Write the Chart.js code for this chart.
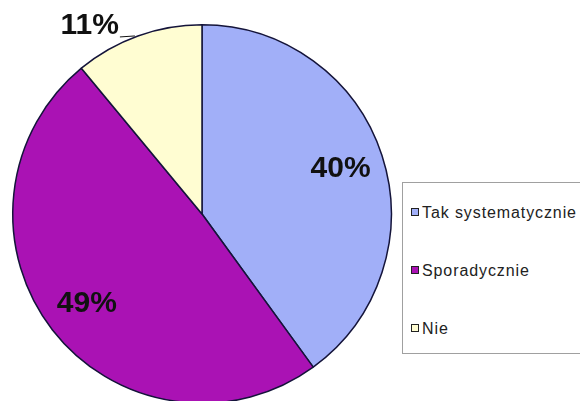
<!DOCTYPE html>
<html lang="pl">
  <head>
    <meta charset="UTF-8" />
    <title>Wykres</title>
    <script src="https://cdn.jsdelivr.net/npm/chart.js"></script>
    <style>
      body { margin: 0; width: 580px; height: 401px; overflow: hidden; background: #fff; position: relative; font-family: "Liberation Sans", Arial, sans-serif; }
      #pie { position: absolute; left: 0; top: 0; }
      #legend { position: absolute; left: 402px; top: 182px; width: 200px; height: 172px; border: 1px solid #a0a0a0; box-sizing: border-box; background: #fff; }
      .item { position: absolute; left: 8px; font-size: 16px; letter-spacing: 0.9px; color: #222; line-height: 18px; white-space: nowrap; }
      .item span { display: inline-block; width: 6px; height: 6px; border: 1px solid #222; margin-right: 3px; vertical-align: 2px; }
    </style>
  </head>
  <body>
    <canvas id="pie" width="580" height="430"></canvas>
    <div id="legend"></div>

    <script>
      const categories = ["Tak systematycznie", "Sporadycznie", "Nie"];
      const values = [40, 49, 11];
      const valueLabels = ["40%", "49%", "11%"];
      const colors = ["#a1aff8", "#aa12b4", "#fffdd2"];

      // legend box on the right
      const legend = document.getElementById("legend");
      const itemTops = [21, 79, 137];
      categories.forEach((name, i) => {
        const row = document.createElement("div");
        row.className = "item";
        row.style.top = itemTops[i] + "px";
        row.innerHTML = '<span style="background:' + colors[i] + '"></span>' + name;
        legend.appendChild(row);
      });

      // percentage labels; the smallest slice gets an outside label with a leader line
      const sliceLabels = {
        id: "sliceLabels",
        afterDatasetsDraw(chart) {
          const ctx = chart.ctx;
          const arcs = chart.getDatasetMeta(0).data;
          ctx.save();
          ctx.font = "bold 30px 'Liberation Sans', Arial, sans-serif";
          ctx.fillStyle = "#111";
          ctx.textBaseline = "middle";
          arcs.forEach((arc, i) => {
            const mid = (arc.startAngle + arc.endAngle) / 2;
            if (values[i] < 20) {
              const ex = arc.x + Math.cos(mid) * arc.outerRadius;
              const ey = arc.y + Math.sin(mid) * arc.outerRadius;
              ctx.strokeStyle = "#111";
              ctx.lineWidth = 1;
              ctx.beginPath();
              ctx.moveTo(ex - 3, ey);
              ctx.lineTo(ex - 18, ey + 1);
              ctx.stroke();
              ctx.textAlign = "right";
              ctx.fillText(valueLabels[i], ex - 19, ey - 10);
            } else {
              const r = arc.outerRadius * 0.77;
              ctx.textAlign = "center";
              ctx.fillText(valueLabels[i], arc.x + Math.cos(mid) * r, arc.y + Math.sin(mid) * r);
            }
          });
          ctx.restore();
        },
      };

      new Chart(document.getElementById("pie"), {
        type: "pie",
        data: {
          labels: categories,
          datasets: [
            {
              data: values,
              backgroundColor: colors,
              borderColor: "#14143a",
              borderWidth: 1.5,
            },
          ],
        },
        options: {
          responsive: false,
          animation: false,
          layout: { padding: { left: 12, right: 188, top: 24, bottom: 26 } },
          plugins: {
            legend: { display: false },
            tooltip: { enabled: false },
          },
        },
        plugins: [sliceLabels],
      });
    </script>
  </body>
</html>
